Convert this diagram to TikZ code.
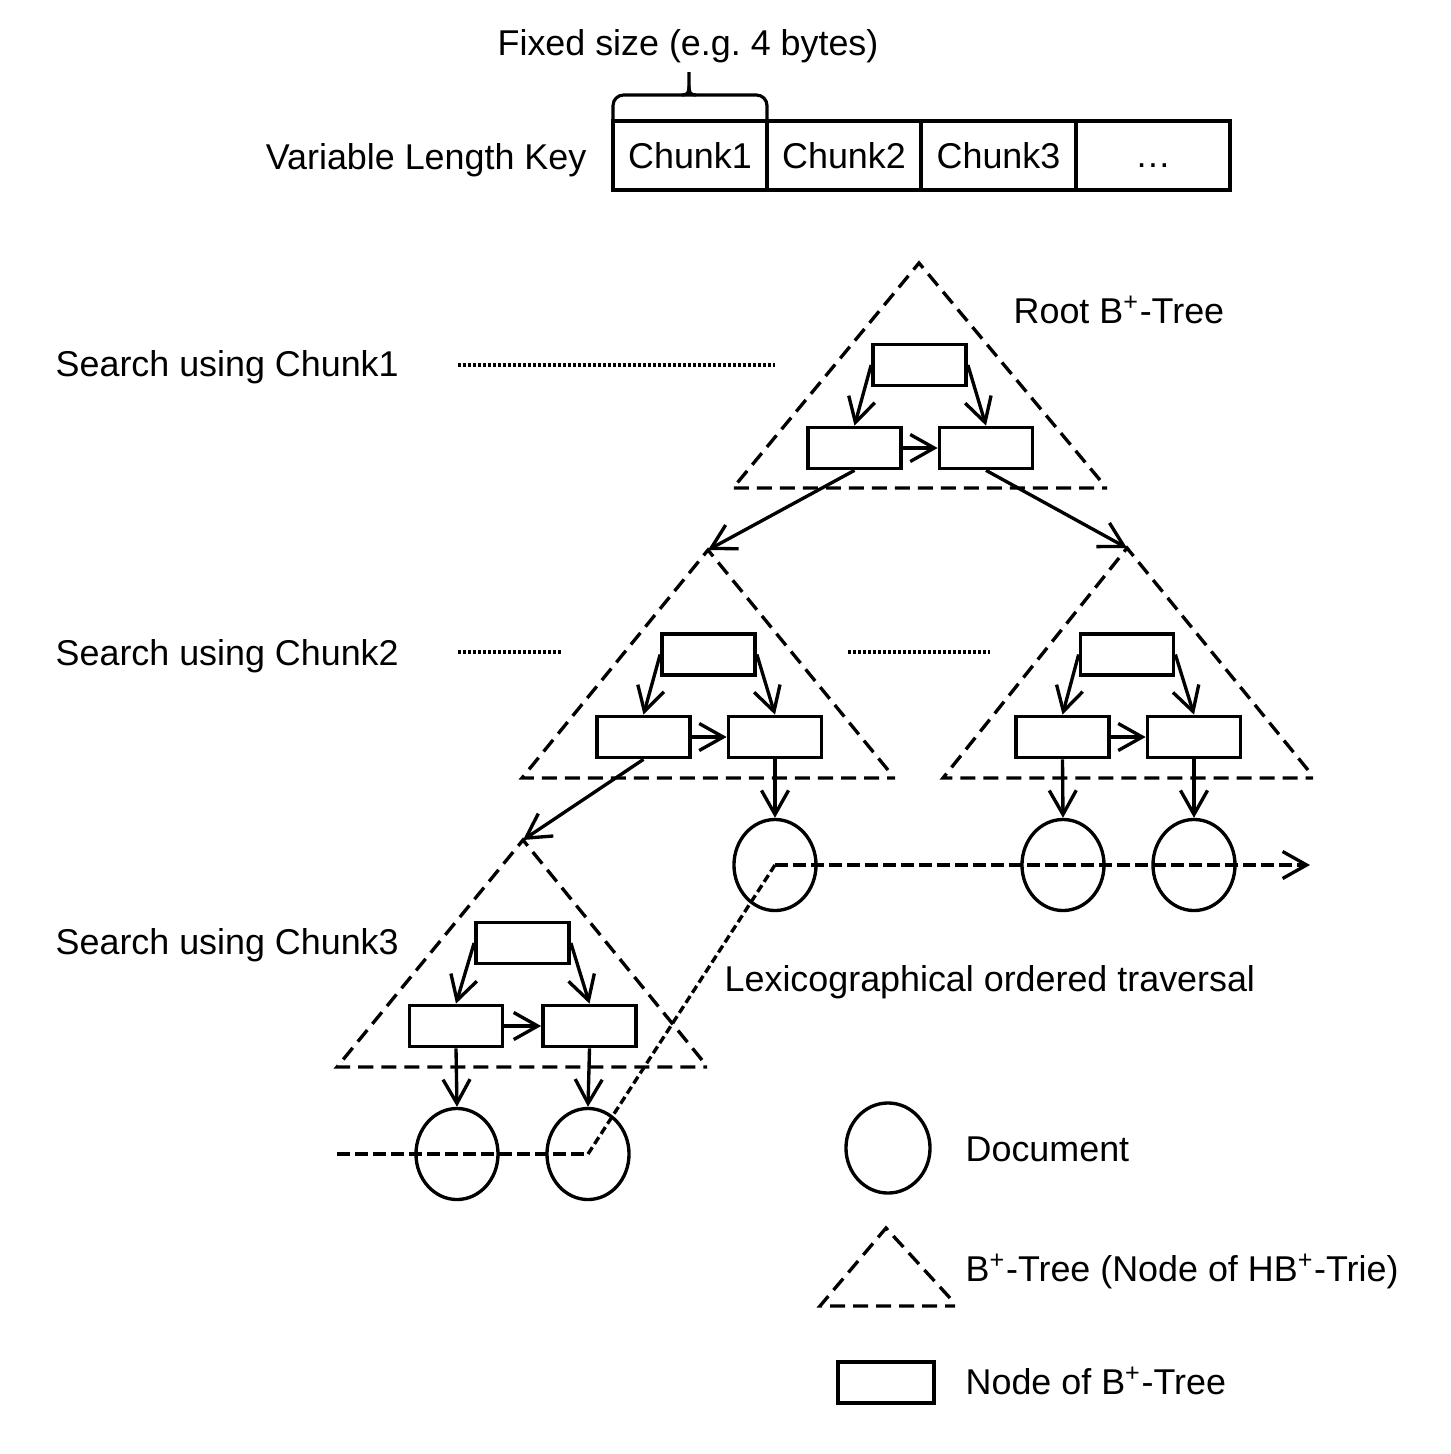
\documentclass[tikz,border=0pt]{standalone}
\usepackage{fontspec}
\setmainfont{Liberation Sans}
\usetikzlibrary{arrows.meta,shapes.geometric}
\begin{document}
\begin{tikzpicture}[x=0.01cm,y=-0.01cm,
  font=\fontsize{10.2pt}{12pt}\selectfont,
  bbox/.style={draw,line width=1.05pt,minimum width=0.93cm,minimum height=0.41cm,inner sep=0pt},
  chunkbox/.style={draw,line width=0.9pt,minimum width=1.54cm,minimum height=0.69cm,inner sep=0pt},
  doc/.style={draw,ellipse,line width=0.95pt,minimum width=0.82cm,minimum height=0.91cm,inner sep=0pt},
  tip/.style={-{Straight Barb[length=0.24cm,width=0.27cm]}},
  arr/.style={line width=0.95pt,tip},
  tri/.style={line width=0.95pt,dash pattern=on 0.15cm off 0.08cm},
  dots/.style={line width=0.9pt,dash pattern=on 0.025cm off 0.025cm},
  trav/.style={line width=0.95pt,dash pattern=on 0.13cm off 0.05cm},
  travd/.style={line width=0.95pt,dash pattern=on 0.08cm off 0.04cm},
  lbl/.style={inner sep=0pt,anchor=base west}]
\useasboundingbox (0,0) rectangle (1450,1454);

% ---- key layout ----
\node[lbl,anchor=base] (fs) at (688,55) {Fixed size (e.g.\ 4 bytes)};
\node[lbl,anchor=base east] (vk) at (587,169) {Variable Length Key};
\node[chunkbox] (k1) at (690,155.5) {Chunk1};
\node[chunkbox] (k2) at (844,155.5) {Chunk2};
\node[chunkbox,minimum width=1.55cm] (k3) at (998.5,155.5) {Chunk3};
\node[chunkbox] (k4) at (1153,155.5) {\vphantom{C}\ldots};
\draw[line width=0.9pt,rounded corners=3] (613,121) -- (613,95) -- (767,95) -- (767,121);
\draw[line width=0.9pt] (682,95) .. controls (688,95) and (689,92) .. (689,86) -- (689,72);
\draw[line width=0.9pt] (696,95) .. controls (690,95) and (689,92) .. (689,86);

% ---- labels ----
\node[lbl] (rt) at (1013,323) {Root B\textsuperscript{+}-Tree};
\node[lbl] (s1) at (55,376) {Search using Chunk1};
\node[lbl] (s2) at (55,665) {Search using Chunk2};
\node[lbl] (s3) at (55,954) {Search using Chunk3};
\node[lbl] (lx) at (724,991) {Lexicographical ordered traversal};

\draw[dots] (458,365) -- (775,365);
\draw[dots] (458,652) -- (563,652);
\draw[dots] (848,652) -- (990,652);

% ---- triangles ----
\coordinate (tr) at (919,263);
\coordinate (ta) at (708,550);
\coordinate (tb) at (1127,548);
\coordinate (tc) at (523,840);
\draw[tri] (1100,480) -- (tr) -- (733,488) -- (1107,488);
\draw[tri] (888,770) -- (ta) -- (522,778) -- (895,778);
\draw[tri] (1308,770) -- (tb) -- (943,778) -- (1313,778);
\draw[tri] (702,1060) -- (tc) -- (337,1067) -- (707,1067);

% ---- root tree ----
\node[bbox] (r0) at (919.5,365) {};
\node[bbox] (r1) at (854.5,448) {};
\node[bbox] (r2) at (986,448) {};
\draw[arr] (r0.west) -- (r1.north);
\draw[arr] (r0.east) -- (r2.north);
\draw[arr] (r1) -- (r2);
\draw[arr] (r1.south) -- (ta);
\draw[arr] (r2.south) -- (tb);

% ---- chunk2 left ----
\node[bbox] (a0) at (708.5,654.5) {};
\node[bbox] (a1) at (643.5,737) {};
\node[bbox] (a2) at (775,737) {};
\draw[arr] (a0.west) -- (a1.north);
\draw[arr] (a0.east) -- (a2.north);
\draw[arr] (a1) -- (a2);
\draw[arr] (a1.south) -- (tc);

% ---- chunk2 right ----
\node[bbox] (b0) at (1127,654.5) {};
\node[bbox] (b1) at (1062.5,737) {};
\node[bbox] (b2) at (1194,737) {};
\draw[arr] (b0.west) -- (b1.north);
\draw[arr] (b0.east) -- (b2.north);
\draw[arr] (b1) -- (b2);

% ---- chunk3 ----
\node[bbox] (c0) at (522.5,943) {};
\node[bbox] (c1) at (456,1026) {};
\node[bbox] (c2) at (589.5,1026) {};
\draw[arr] (c0.west) -- (c1.north);
\draw[arr] (c0.east) -- (c2.north);
\draw[arr] (c1) -- (c2);

% ---- documents ----
\node[doc] (d1) at (775,865) {};
\node[doc] (e1) at (1063,865) {};
\node[doc] (e2) at (1194,865) {};
\node[doc] (f1) at (457,1154) {};
\node[doc] (f2) at (588,1154) {};
\draw[arr] (a2.south) -- (d1.north);
\draw[arr] (b1.south) -- (e1.north);
\draw[arr] (b2.south) -- (e2.north);
\draw[arr] (c1.south) -- (f1.north);
\draw[arr] (c2.south) -- (f2.north);

% ---- traversal ----
\coordinate (tv0) at (337,1154);
\coordinate (tv3) at (1310,865);
\draw[trav] (tv0) -- (f2.center);
\draw[travd] (f2.center) -- (d1.center);
\draw[trav,tip] (d1.center) -- (tv3);

% ---- legend ----
\node[doc,minimum width=0.84cm,minimum height=0.9cm] (l1) at (888,1148) {};
\draw[tri] (950,1298) -- (886,1228) -- (820,1306) -- (955,1306);
\node[bbox,minimum width=0.96cm] (l3) at (886,1382.5) {};
\node[lbl] (ld) at (965,1161) {Document};
\node[lbl] (lt) at (965,1281) {B\textsuperscript{+}-Tree (Node of HB\textsuperscript{+}-Trie)};
\node[lbl] (ln) at (965,1394) {Node of B\textsuperscript{+}-Tree};
\end{tikzpicture}
\end{document}
